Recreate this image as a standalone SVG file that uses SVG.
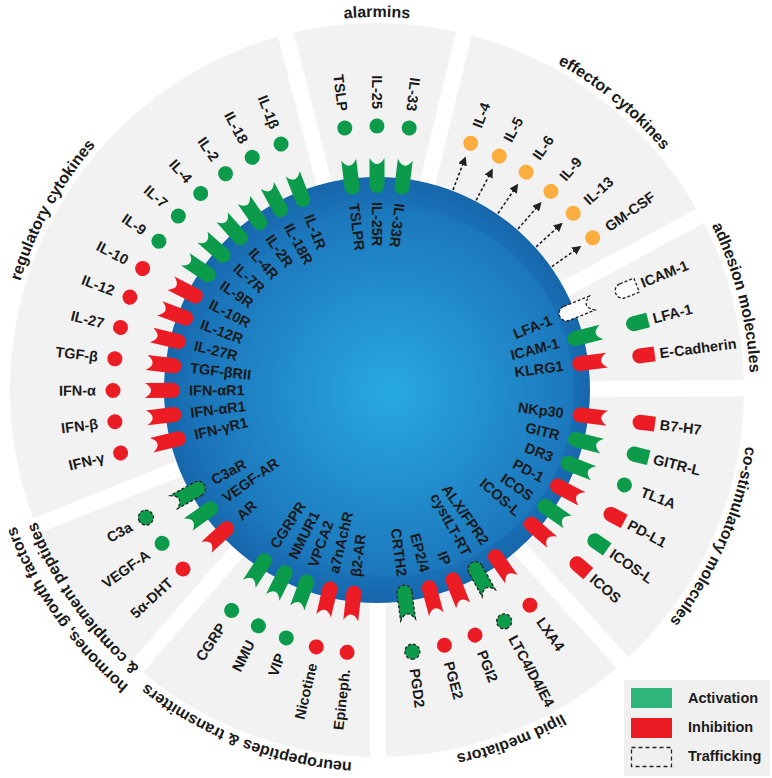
<svg xmlns="http://www.w3.org/2000/svg" width="772" height="778" viewBox="0 0 772 778">
<defs>
<style>
.t{font-family:"Liberation Sans",Arial,sans-serif;font-weight:bold;font-size:14.5px;fill:#1a1a1a}
.e{text-anchor:end}
.s{font-family:"Liberation Sans",Arial,sans-serif;font-weight:bold;font-size:16px;fill:#1a1a1a}
.g{fill:#0c9b4a}
.r{fill:#ec1c24}
.o{fill:#fbad3d}
.w{fill:#fff}
.d{stroke:#222;stroke-width:1.3;stroke-dasharray:3 2}
.gap{stroke:#fff;stroke-width:16}
.arr{stroke:#222;stroke-width:1.6;stroke-dasharray:3 2.2;fill:none}
</style>
<radialGradient id="gOut" cx="0.5" cy="0.5" r="0.5">
<stop offset="0" stop-color="#2196d3"/>
<stop offset="0.85" stop-color="#1b74b9"/>
<stop offset="1" stop-color="#1766ab"/>
</radialGradient>
<radialGradient id="gIn" cx="0.5" cy="0.5" r="0.5">
<stop offset="0" stop-color="#28a9e1"/>
<stop offset="1" stop-color="#1c77bc"/>
</radialGradient>
<path id="rec" d="M204.5-7.5H232Q220 0 232 7.5H204.5A7.5 7.5 0 0 1 204.5-7.5Z"/>
<path id="bul" d="M265-7.5H280V7.5H265A7.5 7.5 0 0 1 265-7.5Z"/>
<marker id="ah" viewBox="0 0 10 10" refX="9" refY="5" markerWidth="9" markerHeight="9" markerUnits="userSpaceOnUse" orient="auto"><path d="M0,0L10,5L0,10Z" fill="#222"/></marker>
<path id="p-alarm" d="M163.1,84.4 A373,373 0 0 1 590.9,84.4"/>
<path id="p-eff" d="M406.3,18.2 A373,373 0 0 1 736.4,290.3"/>
<path id="p-adh" d="M619.7,106.8 A373,373 0 0 1 726.2,521.2"/>
<path id="p-cos" d="M742.5,315.6 A373,373 0 0 1 571.9,708.0"/>
<path id="p-lip" d="M686.2,598.6 A373,373 0 0 1 286.8,751.9"/>
<path id="p-neu" d="M467.2,751.9 A373,373 0 0 1 67.8,598.6"/>
<path id="p-hor1" d="M246.9,753.4 A386,386 0 0 1 -9.0,392.0"/>
<path id="p-hor2" d="M254.0,733.6 A365,365 0 0 1 12.0,391.9"/>
<path id="p-reg" d="M6.0,429.0 A373,373 0 0 1 213.5,54.7"/>
</defs>

<g id="background">
<circle cx="377" cy="390" r="367" fill="#f2f2f2"/>
<g class="gap">
<line x1="377" y1="390" x2="282.5" y2="21.9"/>
<line x1="377" y1="390" x2="467.0" y2="20.8"/>
<line x1="377" y1="390" x2="711.6" y2="209.8"/>
<line x1="377" y1="389" x2="757" y2="388.5"/>
<line x1="377" y1="390" x2="631.3" y2="672.4"/>
<line x1="378" y1="390" x2="378" y2="775"/>
<line x1="377" y1="390" x2="128.2" y2="677.2"/>
<line x1="377" y1="390" x2="23.9" y2="530.5"/>
</g>
</g>

<g id="sector-labels">
<text class="s"><textPath href="#p-alarm" startOffset="50%" text-anchor="middle">alarmins</textPath></text>
<text class="s"><textPath href="#p-eff" startOffset="50%" text-anchor="middle">effector cytokines</textPath></text>
<text class="s"><textPath href="#p-adh" startOffset="50%" text-anchor="middle">adhesion molecules</textPath></text>
<text class="s"><textPath href="#p-cos" startOffset="50%" text-anchor="middle">co-stimulatory molecules</textPath></text>
<text class="s"><textPath href="#p-lip" startOffset="50%" text-anchor="middle">lipid mediators</textPath></text>
<text class="s"><textPath href="#p-neu" startOffset="50%" text-anchor="middle">neuropeptides &amp; transmitters</textPath></text>
<text class="s"><textPath href="#p-hor1" startOffset="50%" text-anchor="middle">hormones, growth factors</textPath></text>
<text class="s"><textPath href="#p-hor2" startOffset="50%" text-anchor="middle">&amp; complement peptides</textPath></text>
<text class="s"><textPath href="#p-reg" startOffset="50%" text-anchor="middle">regulatory cytokines</textPath></text>
</g>

<g id="cell">
<circle cx="377" cy="390" r="213" fill="url(#gOut)"/>
<circle cx="390" cy="392" r="184" fill="url(#gIn)"/>
</g>

<g id="connectors" transform="translate(377 390)">
<line class="arr" x1="214" x2="249" marker-end="url(#ah)" transform="rotate(-69.2)"/>
<line class="arr" x1="214" x2="249" marker-end="url(#ah)" transform="rotate(-62.4)"/>
<line class="arr" x1="214" x2="249" marker-end="url(#ah)" transform="rotate(-55.6)"/>
<line class="arr" x1="214" x2="249" marker-end="url(#ah)" transform="rotate(-48.8)"/>
<line class="arr" x1="214" x2="249" marker-end="url(#ah)" transform="rotate(-42)"/>
<line class="arr" x1="214" x2="249" marker-end="url(#ah)" transform="rotate(-35.2)"/>
</g>

<g id="items" transform="translate(377 390)">
<!-- alarmins -->
<g id="tslp" transform="rotate(-97)"><use href="#rec" class="g"/><circle class="g" cx="264" r="7.5"/><g transform="rotate(180)"><text class="t e" x="-281" dy=".35em">TSLP</text><text class="t" x="-188" dy=".35em">TSLPR</text></g></g>
<g id="il25" transform="rotate(-90)"><use href="#rec" class="g"/><circle class="g" cx="264" r="7.5"/><g transform="rotate(180)"><text class="t e" x="-281" dy=".35em">IL-25</text><text class="t" x="-188" dy=".35em">IL-25R</text></g></g>
<g id="il33" transform="rotate(-83)"><use href="#rec" class="g"/><circle class="g" cx="264" r="7.5"/><g transform="rotate(180)"><text class="t e" x="-281" dy=".35em">IL-33</text><text class="t" x="-188" dy=".35em">IL-33R</text></g></g>

<!-- effector cytokines -->
<g id="eff-il4" transform="rotate(-69.2)"><circle class="o" cx="264" r="7.5"/><text class="t" x="281" dy=".35em">IL-4</text></g>
<g id="eff-il5" transform="rotate(-62.4)"><circle class="o" cx="264" r="7.5"/><text class="t" x="281" dy=".35em">IL-5</text></g>
<g id="eff-il6" transform="rotate(-55.6)"><circle class="o" cx="264" r="7.5"/><text class="t" x="281" dy=".35em">IL-6</text></g>
<g id="eff-il9" transform="rotate(-48.8)"><circle class="o" cx="264" r="7.5"/><text class="t" x="281" dy=".35em">IL-9</text></g>
<g id="eff-il13" transform="rotate(-42)"><circle class="o" cx="264" r="7.5"/><text class="t" x="281" dy=".35em">IL-13</text></g>
<g id="eff-gmcsf" transform="rotate(-35.2)"><circle class="o" cx="264" r="7.5"/><text class="t" x="281" dy=".35em">GM-CSF</text></g>

<!-- adhesion -->
<g id="lfa1" transform="rotate(-22)"><use href="#rec" class="w d"/><use href="#bul" class="w d"/><text class="t e" x="188" dy=".35em">LFA-1</text><text class="t" x="285" dy=".35em">ICAM-1</text></g>
<g id="icam1" transform="rotate(-14.5)"><use href="#rec" class="g"/><use href="#bul" class="g"/><text class="t e" x="188" dy=".35em">ICAM-1</text><text class="t" x="285" dy=".35em">LFA-1</text></g>
<g id="klrg1" transform="rotate(-7.4)"><use href="#rec" class="r"/><use href="#bul" class="r"/><text class="t e" x="188" dy=".35em">KLRG1</text><text class="t" x="285" dy=".35em">E-Cadherin</text></g>

<!-- co-stimulatory -->
<g id="nkp30" transform="rotate(7)"><use href="#rec" class="r"/><use href="#bul" class="r"/><text class="t e" x="188" dy=".35em">NKp30</text><text class="t" x="285" dy=".35em">B7-H7</text></g>
<g id="gitr" transform="rotate(14)"><use href="#rec" class="g"/><use href="#bul" class="g"/><text class="t e" x="188" dy=".35em">GITR</text><text class="t" x="285" dy=".35em">GITR-L</text></g>
<g id="dr3" transform="rotate(21)"><use href="#rec" class="g"/><circle class="g" cx="265" r="7.5"/><text class="t e" x="188" dy=".35em">DR3</text><text class="t" x="283" dy=".35em">TL1A</text></g>
<g id="pd1" transform="rotate(28)"><use href="#rec" class="r"/><use href="#bul" class="r"/><text class="t e" x="188" dy=".35em">PD-1</text><text class="t" x="285" dy=".35em">PD-L1</text></g>
<g id="icos" transform="rotate(34.7)"><use href="#rec" class="g"/><use href="#bul" class="g"/><text class="t e" x="188" dy=".35em">ICOS</text><text class="t" x="285" dy=".35em">ICOS-L</text></g>
<g id="icosl" transform="rotate(41)"><use href="#rec" class="r"/><use href="#bul" class="r"/><text class="t e" x="188" dy=".35em">ICOS-L</text><text class="t" x="285" dy=".35em">ICOS</text></g>

<!-- lipid mediators -->
<g id="alx" transform="rotate(54.6)"><use href="#rec" class="r"/><circle class="r" cx="264" r="7.5"/><text class="t e" x="188" dy=".35em">ALX/FPR2</text><text class="t" x="281" dy=".35em">LXA4</text></g>
<g id="cystlt" transform="rotate(61.2)"><use href="#rec" class="g d"/><circle class="g d" cx="264" r="7.5"/><text class="t e" x="188" dy=".35em">cystLT-RT</text><text class="t" x="281" dy=".35em">LTC4/D4/E4</text></g>
<g id="ip" transform="rotate(68.2)"><use href="#rec" class="r"/><circle class="r" cx="264" r="7.5"/><text class="t e" x="188" dy=".35em">IP</text><text class="t" x="281" dy=".35em">PGI2</text></g>
<g id="ep24" transform="rotate(75.2)"><use href="#rec" class="r"/><circle class="r" cx="264" r="7.5"/><text class="t e" x="188" dy=".35em">EP2/4</text><text class="t" x="281" dy=".35em">PGE2</text></g>
<g id="crth2" transform="rotate(82.3)"><use href="#rec" class="g d"/><circle class="g d" cx="264" r="7.5"/><text class="t e" x="188" dy=".35em">CRTH2</text><text class="t" x="281" dy=".35em">PGD2</text></g>

<!-- neuropeptides & transmitters -->
<g id="b2ar" transform="rotate(96.5)"><use href="#rec" class="r"/><circle class="r" cx="264" r="7.5"/><g transform="rotate(180)"><text class="t e" x="-281" dy=".35em">Epineph.</text><text class="t" x="-188" dy=".35em">β2-AR</text></g></g>
<g id="a7nachr" transform="rotate(103.3)"><use href="#rec" class="r"/><circle class="r" cx="264" r="7.5"/><g transform="rotate(180)"><text class="t e" x="-281" dy=".35em">Nicotine</text><text class="t" x="-188" dy=".35em">a7nAchR</text></g></g>
<g id="vpca2" transform="rotate(110.1)"><use href="#rec" class="g"/><circle class="g" cx="264" r="7.5"/><g transform="rotate(180)"><text class="t e" x="-281" dy=".35em">VIP</text><text class="t" x="-188" dy=".35em">VPCA2</text></g></g>
<g id="nmur1" transform="rotate(116.7)"><use href="#rec" class="g"/><circle class="g" cx="264" r="7.5"/><g transform="rotate(180)"><text class="t e" x="-281" dy=".35em">NMU</text><text class="t" x="-188" dy=".35em">NMUR1</text></g></g>
<g id="cgrpr" transform="rotate(123.4)"><use href="#rec" class="g"/><circle class="g" cx="264" r="7.5"/><g transform="rotate(180)"><text class="t e" x="-281" dy=".35em">CGRP</text><text class="t" x="-188" dy=".35em">CGRPR</text></g></g>

<!-- hormones -->
<g id="ar" transform="rotate(137.3)"><use href="#rec" class="r"/><circle class="r" cx="264" r="7.5"/><g transform="rotate(180)"><text class="t e" x="-281" dy=".35em">5α-DHT</text><text class="t" x="-188" dy=".35em">AR</text></g></g>
<g id="vegfar" transform="rotate(144.5)"><use href="#rec" class="g"/><circle class="g" cx="264" r="7.5"/><g transform="rotate(180)"><text class="t e" x="-281" dy=".35em">VEGF-A</text><text class="t" x="-188" dy=".35em">VEGF-AR</text></g></g>
<g id="c3ar" transform="rotate(151.1)"><use href="#rec" class="g d"/><circle class="g d" cx="264" r="7.5"/><g transform="rotate(180)"><text class="t e" x="-281" dy=".35em">C3a</text><text class="t" x="-188" dy=".35em">C3aR</text></g></g>

<!-- regulatory cytokines -->
<g id="il1r" transform="rotate(-111.3)"><use href="#rec" class="g"/><circle class="g" cx="264" r="7.5"/><g transform="rotate(180)"><text class="t e" x="-281" dy=".35em">IL-1β</text><text class="t" x="-188" dy=".35em">IL-1R</text></g></g>
<g id="il18r" transform="rotate(-118.2)"><use href="#rec" class="g"/><circle class="g" cx="264" r="7.5"/><g transform="rotate(180)"><text class="t e" x="-281" dy=".35em">IL-18</text><text class="t" x="-188" dy=".35em">IL-18R</text></g></g>
<g id="il2r" transform="rotate(-125)"><use href="#rec" class="g"/><circle class="g" cx="264" r="7.5"/><g transform="rotate(180)"><text class="t e" x="-281" dy=".35em">IL-2</text><text class="t" x="-188" dy=".35em">IL-2R</text></g></g>
<g id="il4r" transform="rotate(-131.9)"><use href="#rec" class="g"/><circle class="g" cx="264" r="7.5"/><g transform="rotate(180)"><text class="t e" x="-281" dy=".35em">IL-4</text><text class="t" x="-188" dy=".35em">IL-4R</text></g></g>
<g id="il7r" transform="rotate(-138.8)"><use href="#rec" class="g"/><circle class="g" cx="264" r="7.5"/><g transform="rotate(180)"><text class="t e" x="-281" dy=".35em">IL-7</text><text class="t" x="-188" dy=".35em">IL-7R</text></g></g>
<g id="il9r" transform="rotate(-145.7)"><use href="#rec" class="g"/><circle class="g" cx="264" r="7.5"/><g transform="rotate(180)"><text class="t e" x="-281" dy=".35em">IL-9</text><text class="t" x="-188" dy=".35em">IL-9R</text></g></g>
<g id="il10r" transform="rotate(-152.6)"><use href="#rec" class="r"/><circle class="r" cx="264" r="7.5"/><g transform="rotate(180)"><text class="t e" x="-281" dy=".35em">IL-10</text><text class="t" x="-188" dy=".35em">IL-10R</text></g></g>
<g id="il12r" transform="rotate(-159.4)"><use href="#rec" class="r"/><circle class="r" cx="264" r="7.5"/><g transform="rotate(180)"><text class="t e" x="-281" dy=".35em">IL-12</text><text class="t" x="-188" dy=".35em">IL-12R</text></g></g>
<g id="il27r" transform="rotate(-166.3)"><use href="#rec" class="r"/><circle class="r" cx="264" r="7.5"/><g transform="rotate(180)"><text class="t e" x="-281" dy=".35em">IL-27</text><text class="t" x="-188" dy=".35em">IL-27R</text></g></g>
<g id="tgfbr" transform="rotate(-173.2)"><use href="#rec" class="r"/><circle class="r" cx="264" r="7.5"/><g transform="rotate(180)"><text class="t e" x="-281" dy=".35em">TGF-β</text><text class="t" x="-188" dy=".35em">TGF-βRII</text></g></g>
<g id="ifnar1a" transform="rotate(-180.1)"><use href="#rec" class="r"/><circle class="r" cx="264" r="7.5"/><g transform="rotate(180)"><text class="t e" x="-281" dy=".35em">IFN-α</text><text class="t" x="-188" dy=".35em">IFN-αR1</text></g></g>
<g id="ifnar1b" transform="rotate(-186.9)"><use href="#rec" class="r"/><circle class="r" cx="264" r="7.5"/><g transform="rotate(180)"><text class="t e" x="-281" dy=".35em">IFN-β</text><text class="t" x="-188" dy=".35em">IFN-αR1</text></g></g>
<g id="ifngr1" transform="rotate(-193.8)"><use href="#rec" class="r"/><circle class="r" cx="264" r="7.5"/><g transform="rotate(180)"><text class="t e" x="-281" dy=".35em">IFN-γ</text><text class="t" x="-188" dy=".35em">IFN-γR1</text></g></g>
</g>

<g id="legend">
<rect x="624" y="680" width="146" height="96" fill="#f0f0f0"/>
<rect x="631" y="688" width="41" height="20" fill="#2fb57a"/>
<rect x="631" y="718" width="41" height="20" fill="#ec1c24"/>
<rect x="631.5" y="747.5" width="40" height="19" fill="none" stroke="#222" stroke-width="1.3" stroke-dasharray="4 3"/>
<text class="t" x="688" y="703">Activation</text>
<text class="t" x="688" y="732">Inhibition</text>
<text class="t" x="688" y="761">Trafficking</text>
</g>
</svg>
